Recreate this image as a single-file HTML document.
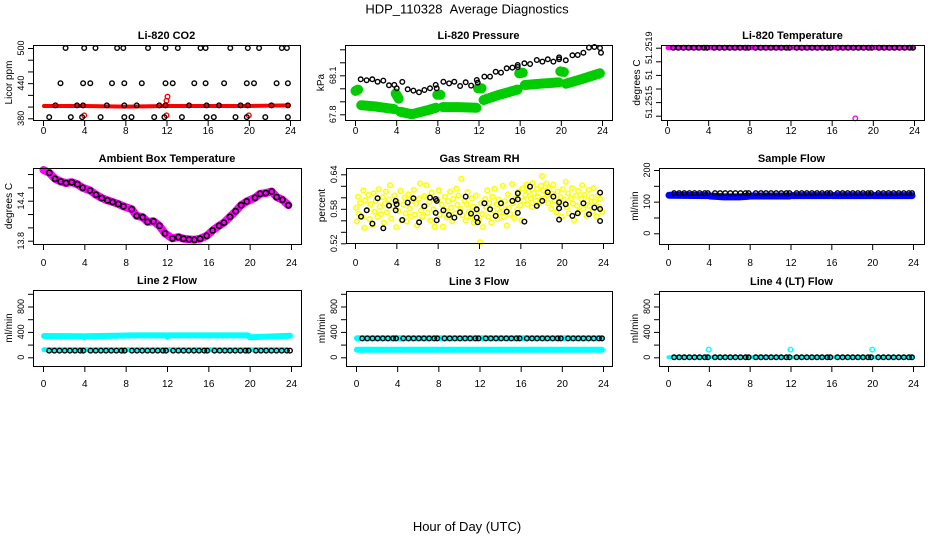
<!DOCTYPE html>
<html><head><meta charset="utf-8">
<style>
html,body{margin:0;padding:0;background:#fff;}
svg{display:block;font-family:"Liberation Sans",sans-serif;}
</style></head>
<body>
<svg id="chart" width="936" height="540" viewBox="0 0 936 540">
<text x="467" y="13.5" font-size="13" text-anchor="middle">HDP_110328&#160;&#160;Average Diagnostics</text>
<text x="467" y="531" font-size="13" text-anchor="middle">Hour of Day (UTC)</text>
</svg>
<script>
// ---------- data ----------
const xTicks = [0,4,8,12,16,20,24];
const halfHours = [0.6,1.1,1.6,2.1,2.6,3.1,3.6,3.9,4.6,5.1,5.6,6.1,6.6,7.1,7.6,7.9,8.6,9.1,9.6,10.1,10.6,11.1,11.6,11.9,12.6,13.1,13.6,14.1,14.6,15.1,15.6,15.9,16.6,17.1,17.6,18.1,18.6,19.1,19.6,19.9,20.6,21.1,21.6,22.1,22.6,23.1,23.6,23.9];

// CO2
const co2BlackH = [2.2,4.0,5.1,7.2,7.8,10.2,11.9,13.1,15.3,15.8,18.2,19.9,21.0,23.2,23.7, 1.7,3.9,4.6,6.7,7.9,9.6,11.9,12.6,14.7,15.8,17.6,19.8,20.5,22.7,23.8, 1.2,3.3,3.9,6.2,7.9,9.1,11.3,11.9,14.2,15.9,17.1,19.2,19.9,22.2,23.8, 0.6,2.7,3.8,5.6,7.9,8.6,10.8,11.8,13.5,15.9,16.6,18.7,19.8,21.6,23.8];
const co2BlackV = [500,500,500,500,500,500,500,500,500,500,500,500,500,500,500, 440,440,440,440,440,440,440,440,440,440,440,440,440,440,440, 402,402,402,402,402,402,402,402,402,402,402,402,402,402,402, 382,382,382,382,382,382,382,382,382,382,382,382,382,382,382];
const co2RedH = [0.1,4,8,12,16,20,23.9];
const co2RedV = [401,401,400,401,401,401,402];
const co2RedPtH = [12.1,12.0,4.0,12.0,20.0];
const co2RedPtV = [417,410,385,385,385];

// Pressure
const presBlackH = [0.55,1.13,1.68,2.20,2.75,3.30,3.82,4.05,4.60,5.12,5.67,6.22,6.74,7.29,7.84,7.94,8.59,9.14,9.65,10.21,10.76,11.28,11.83,11.92,12.57,13.12,13.67,14.19,14.74,15.29,15.81,15.81,16.46,17.01,17.66,18.21,18.73,19.28,19.83,19.83,20.48,21.12,21.64,22.19,22.74,23.26,23.81,23.9];
const presBlackV = [68.069,68.062,68.069,68.051,68.059,68.023,68.026,68.0,68.049,67.992,67.982,67.969,67.987,68.0,68.026,68.0,68.051,68.038,68.051,68.018,68.046,68.021,68.064,68.044,68.090,68.090,68.128,68.121,68.154,68.159,68.179,68.164,68.192,68.187,68.218,68.205,68.223,68.205,68.223,68.238,68.215,68.254,68.256,68.274,68.313,68.318,68.310,68.274];
const presGreenH = [0.05,0.3,null,0.6,2.0,3.8,null,3.95,4.25,null,4.4,5.5,7.0,7.85,null,8.0,8.3,null,8.5,10.0,11.8,null,11.95,12.3,null,12.5,14.0,15.8,null,15.95,16.3,null,16.5,18.0,19.8,null,19.95,20.3,null,20.5,22.0,23.8];
const presGreenV = [67.98,67.99,null,67.87,67.86,67.84,null,67.96,67.92,null,67.82,67.80,67.83,67.85,null,67.95,67.95,null,67.855,67.855,67.85,null,68.0,68.0,null,67.91,67.95,67.99,null,68.115,68.12,null,68.025,68.035,68.045,null,68.13,68.125,null,68.035,68.07,68.115];

// Li-820 temperature
const tempBlackV = halfHours.map(()=>51.2519);
const tempMagH = [0.1,23.9];
const tempMagV = [51.2519,51.2519];
const tempOutH = [18.3];
const tempOutV = [51.25138];

// Ambient
const ambH = [0.61,1.16,1.71,2.23,2.78,3.32,3.84,4.55,5.13,5.68,6.23,6.74,7.29,7.78,8.58,9.07,9.65,10.13,10.68,11.26,11.81,12.52,13.10,13.58,14.13,14.65,15.20,15.84,16.42,17.04,17.52,18.10,18.65,19.17,19.72,20.52,21.01,21.55,22.13,22.62,23.17,23.75];
const ambV = [14.818,14.728,14.688,14.664,14.678,14.648,14.594,14.554,14.49,14.44,14.406,14.38,14.35,14.316,14.272,14.172,14.152,14.082,14.092,14.024,13.91,13.834,13.854,13.83,13.82,13.814,13.83,13.874,13.954,14.024,14.072,14.158,14.242,14.332,14.39,14.444,14.504,14.514,14.538,14.454,14.414,14.332];
const ambMagH = [0.05,0.61,1.16,1.71,2.23,2.78,3.32,3.84,4.55,5.13,5.68,6.23,6.74,7.29,7.78,8.58,9.07,9.65,10.13,10.68,11.26,11.81,12.52,13.10,13.58,14.13,14.65,15.20,15.84,16.42,17.04,17.52,18.10,18.65,19.17,19.72,20.52,21.01,21.55,22.13,22.62,23.17,23.75];
const ambMagV = [14.86,14.818,14.728,14.688,14.664,14.678,14.648,14.594,14.554,14.49,14.44,14.406,14.38,14.35,14.316,14.272,14.172,14.152,14.082,14.092,14.024,13.91,13.834,13.854,13.83,13.82,13.814,13.83,13.874,13.954,14.024,14.072,14.158,14.242,14.332,14.39,14.444,14.504,14.514,14.538,14.454,14.414,14.332];

// Gas stream RH
const rhBlackH = [0.58,1.13,1.68,2.19,2.74,3.29,3.94,3.94,4.03,4.58,5.10,5.65,6.20,6.71,7.26,7.81,7.81,7.91,7.91,8.55,9.10,9.62,10.16,10.71,11.23,11.78,11.78,11.87,12.52,13.07,13.62,14.13,14.68,15.23,15.75,15.75,15.75,16.39,16.94,17.59,18.13,18.65,19.20,19.75,19.75,19.75,20.39,21.04,21.55,22.10,22.65,23.17,23.72,23.72,23.72];
const rhBlackV = [0.5664,0.5774,0.5542,0.5983,0.5461,0.5855,0.5937,0.5774,0.5879,0.5606,0.5908,0.5983,0.5565,0.5844,0.5995,0.5971,0.5728,0.5937,0.5600,0.5774,0.5693,0.5647,0.5739,0.6012,0.5716,0.5647,0.5792,0.5565,0.5896,0.5792,0.5676,0.5896,0.5751,0.5937,0.5966,0.6070,0.5728,0.5577,0.6186,0.5850,0.5937,0.6087,0.6012,0.5809,0.5913,0.5612,0.5879,0.5676,0.5722,0.5896,0.5705,0.5821,0.6082,0.5797,0.5588];
const rhYellowH = [0.1,0.2,0.3,0.4,0.5,0.7,0.8,0.9,1.0,1.2,1.3,1.4,1.5,1.7,1.8,1.9,2.0,2.2,2.3,2.4,2.5,2.7,2.8,2.9,3.0,3.1,3.3,3.4,3.5,3.7,3.8,4.0,4.1,4.2,4.4,4.5,4.7,4.8,4.9,5.0,5.2,5.3,5.4,5.5,5.7,5.8,5.9,6.0,6.2,6.3,6.4,6.5,6.7,6.8,6.9,7.0,7.2,7.3,7.4,7.6,7.7,8.0,8.1,8.2,8.4,8.5,8.7,8.8,8.9,9.0,9.2,9.3,9.4,9.5,9.7,9.8,9.9,10.0,10.2,10.3,10.4,10.6,10.7,10.8,10.9,11.0,11.2,11.3,11.4,11.5,11.7,11.8,12.0,12.1,12.2,12.3,12.4,12.6,12.7,12.8,12.9,13.0,13.2,13.3,13.4,13.5,13.7,13.8,13.9,14.0,14.2,14.3,14.4,14.5,14.7,14.8,14.9,15.0,15.2,15.3,15.4,15.5,15.7,15.8,16.0,16.1,16.2,16.3,16.5,16.6,16.7,16.8,17.0,17.1,17.2,17.3,17.5,17.6,17.7,17.8,18.0,18.1,18.2,18.3,18.5,18.6,18.7,18.8,19.0,19.1,19.2,19.3,19.5,19.6,19.7,19.9,20.0,20.1,20.2,20.4,20.5,20.6,20.7,20.9,21.0,21.1,21.2,21.4,21.5,21.6,21.7,21.9,22.0,22.1,22.2,22.4,22.5,22.6,22.7,22.9,23.0,23.1,23.2,23.4,23.5,23.6,23.7,23.9];
const rhYellowV = [0.582,0.558,0.601,0.571,0.590,0.566,0.612,0.547,0.595,0.578,0.604,0.562,0.588,0.552,0.607,0.575,0.593,0.566,0.614,0.583,0.571,0.600,0.556,0.589,0.610,0.574,0.596,0.621,0.563,0.585,0.603,0.548,0.592,0.576,0.611,0.560,0.587,0.599,0.572,0.558,0.605,0.581,0.567,0.594,0.613,0.570,0.589,0.551,0.598,0.624,0.577,0.566,0.602,0.585,0.621,0.573,0.592,0.560,0.608,0.579,0.549,0.596,0.612,0.570,0.587,0.549,0.601,0.576,0.565,0.593,0.610,0.582,0.558,0.597,0.572,0.615,0.587,0.603,0.580,0.632,0.569,0.594,0.560,0.588,0.609,0.575,0.566,0.598,0.584,0.556,0.603,0.577,0.560,0.522,0.590,0.571,0.548,0.597,0.583,0.612,0.566,0.590,0.556,0.601,0.577,0.615,0.588,0.562,0.596,0.574,0.583,0.620,0.566,0.593,0.551,0.605,0.582,0.571,0.623,0.590,0.564,0.598,0.579,0.610,0.586,0.560,0.615,0.595,0.604,0.622,0.588,0.610,0.598,0.583,0.625,0.607,0.593,0.615,0.601,0.589,0.620,0.637,0.612,0.598,0.624,0.604,0.590,0.616,0.580,0.606,0.622,0.594,0.574,0.610,0.588,0.600,0.566,0.614,0.596,0.627,0.583,0.607,0.572,0.598,0.616,0.589,0.560,0.603,0.585,0.611,0.575,0.597,0.621,0.580,0.604,0.568,0.594,0.613,0.585,0.600,0.575,0.616,0.592,0.567,0.603,0.583,0.597,0.575];

// Sample flow
const sampleBlackV = halfHours.map(()=>127);
const sampleBlueH = [0.1,3.9,null,4.1,5.5,7.0,7.9,null,8.1,11.9,null,12.1,15.9,null,16.1,19.9,null,20.1,23.9];
const sampleBlueV = [120,119,null,118,115,115,117,null,118,118,null,119,119,null,119,119,null,119,119];

// Line 2
const line2BlackV = halfHours.map(()=>105);
const line2CyanUpH = [0.1,3.9,4.0,4.1,8.5,11.9,12.0,12.1,19.8,19.9,20.0,23.9];
const line2CyanUpV = [335,332,315,330,345,345,325,345,345,340,315,340];
const line2CyanLoH = [0.1,23.6];
const line2CyanLoV = [120,120];

// Line 3
const line3BlackV = halfHours.map(()=>298);
const line3CyanUpH = [0.1,23.9];
const line3CyanUpV = [300,300];
const line3CyanLoH = [0.1,23.9];
const line3CyanLoV = [118,118];

// Line 4
const line4BlackV = halfHours.map(()=>0);
const line4CyanH = [0.05,0.3,23.9];
const line4CyanV = [0,0,0];
const line4OutH = [4.0,12.0,20.0];
const line4OutV = [122,122,122];

// ---------- rendering ----------
const NS = "http://www.w3.org/2000/svg";
const svg = document.getElementById("chart");
function mk(tag, attrs, parent){
  const e = document.createElementNS(NS, tag);
  for (const k in attrs) e.setAttribute(k, attrs[k]);
  (parent||svg).appendChild(e);
  return e;
}

function makePanel(c){
  const g = mk("g", {});
  
  
  const xs = h => c.x0 + (h/24)*(c.x24 - c.x0);
  const ys = v => c.py0 + (v - c.v0)/(c.v1 - c.v0)*(c.py1 - c.py0);
  c.series.forEach(s => {
    if (s.type === "band") {
      let d = "", pen = false;
      for (let i=0;i<s.h.length;i++){
        if (s.h[i]===null){ pen=false; continue; }
        d += (pen?"L":"M") + xs(s.h[i]).toFixed(1) + " " + ys(s.v[i]).toFixed(1) + " ";
        pen = true;
      }
      const p = mk("path", {d:d, fill:"none", stroke:s.color, "stroke-width":s.w, "stroke-linecap":"round", "stroke-linejoin":"round"}, g);
      
      
    } else {
      const sg = mk("g", {fill:"none", stroke:s.color, "stroke-width":s.sw||1.4}, g);
      
      
      for (let i=0;i<s.h.length;i++){
        const pt = mk("circle", {cx:xs(s.h[i]).toFixed(1), cy:ys(s.v[i]).toFixed(1), r:s.r||2.3}, sg);
        
        
      }
    }
  });
  const b = c.box;
  const rect = mk("rect", {x:b[0]+0.5, y:b[1]+0.5, width:b[2]-b[0], height:b[3]-b[1], fill:"none", stroke:"#000", "stroke-width":1}, g);
  
  
  const t = mk("text", {x:(b[0]+b[2])/2, y:b[1]-6, "font-size":11, "font-weight":"bold", "text-anchor":"middle"}, g);
  t.textContent = c.title;
  
  
  const xa = mk("g", {}, g);
  
  
  xTicks.forEach(h => {
    mk("line", {x1:xs(h)+0.5, x2:xs(h)+0.5, y1:b[3], y2:b[3]+6, stroke:"#000"}, xa);
    const l = mk("text", {x:xs(h)+0.5, y:c.xLabY, "font-size":10, "text-anchor":"middle"}, xa);
    l.textContent = String(h);
    
    
  });
  const ya = mk("g", {}, g);
  
  
  c.yTicks.forEach(v => {
    mk("line", {x1:b[0]-5, x2:b[0], y1:ys(v)+0.5, y2:ys(v)+0.5, stroke:"#000"}, ya);
  });
  c.yLabVals.forEach((v,i) => {
    const yy = ys(v);
    const l = mk("text", {x:0, y:0, "font-size":9, "text-anchor":"middle", transform:`translate(${b[0]-9},${yy}) rotate(-90)`}, ya);
    l.textContent = c.yLabText[i];
    
    
  });
  const yl = mk("text", {x:0, y:0, "font-size":10, "text-anchor":"middle", transform:`translate(${b[0]-21},${(b[1]+b[3])/2}) rotate(-90)`}, g);
  yl.textContent = c.ylab;
  
  
}

const BK = "#000", RED="#ff0000", GRN="#00cc00", MAG="#ff00ff", YEL="#ffff00", BLU="#0000ff", CYN="#00ffff";

makePanel({name:"co2", title:"Li-820 CO2", ylab:"Licor ppm", box:[33,45,300,120], x0:43, x24:290, xLabY:134,
  v0:380, py0:118.3, v1:500, py1:48, yTicks:[380,400,420,440,460,480,500], yLabVals:[380,440,500], yLabText:["380","440","500"],
  series:[
    {type:"band", name:"co2-licor-band", h:co2RedH, v:co2RedV, color:RED, w:4},
    {type:"pts", name:"co2-red-points", h:co2RedPtH, v:co2RedPtV, color:RED},
    {type:"pts", name:"co2-average-points", h:co2BlackH, v:co2BlackV, color:BK}
  ]});
makePanel({name:"pressure", title:"Li-820 Pressure", ylab:"kPa", box:[345,45,612,120], x0:355, x24:602, xLabY:134,
  v0:67.8, py0:114.3, v1:68.1, py1:75.3, yTicks:[67.8,67.9,68.0,68.1,68.2,68.3], yLabVals:[67.8,68.1], yLabText:["67.8","68.1"],
  series:[
    {type:"band", name:"pressure-green-band", h:presGreenH, v:presGreenV, color:GRN, w:10},
    {type:"pts", name:"pressure-average-points", h:presBlackH, v:presBlackV, color:BK}
  ]});
makePanel({name:"li820-temp", title:"Li-820 Temperature", ylab:"degrees C", box:[661,45,924,120], x0:667, x24:914, xLabY:134,
  v0:51.2514, py0:115.7, v1:51.2519, py1:47.7, yTicks:[51.2514,51.2515,51.2516,51.2517,51.2518,51.2519], yLabVals:[51.2515,51.2517,51.2519], yLabText:["51.2515","51","51.2519"],
  series:[
    {type:"band", name:"li820-temp-magenta-band", h:tempMagH, v:tempMagV, color:MAG, w:5},
    {type:"pts", name:"li820-temp-outlier", h:tempOutH, v:tempOutV, color:MAG},
    {type:"pts", name:"li820-temp-average-points", h:halfHours, v:tempBlackV, color:BK}
  ]});
makePanel({name:"ambient", title:"Ambient Box Temperature", ylab:"degrees C", box:[33,168,301,244], x0:43, x24:291, xLabY:266,
  v0:13.8, py0:240.7, v1:14.4, py1:200.7, yTicks:[13.8,14.0,14.2,14.4,14.6,14.8], yLabVals:[13.8,14.4], yLabText:["13.8","14.4"],
  series:[
    {type:"band", name:"ambient-magenta-band", h:ambMagH, v:ambMagV, color:MAG, w:8},
    {type:"pts", name:"ambient-average-points", h:ambH, v:ambV, color:BK, r:2.6, sw:1.6}
  ]});
makePanel({name:"rh", title:"Gas Stream RH", ylab:"percent", box:[346,168,613,243], x0:355, x24:603, xLabY:266,
  v0:0.52, py0:243.3, v1:0.64, py1:174.3, yTicks:[0.52,0.54,0.56,0.58,0.60,0.62,0.64], yLabVals:[0.52,0.58,0.64], yLabText:["0.52","0.58","0.64"],
  series:[
    {type:"pts", name:"rh-yellow-points", h:rhYellowH, v:rhYellowV, color:YEL, sw:1.6},
    {type:"pts", name:"rh-average-points", h:rhBlackH, v:rhBlackV, color:BK}
  ]});
makePanel({name:"sample-flow", title:"Sample Flow", ylab:"ml/min", box:[659,168,924,244], x0:668, x24:913, xLabY:266,
  v0:0, py0:233.3, v1:200, py1:170, yTicks:[0,50,100,150,200], yLabVals:[0,100,200], yLabText:["0","100","200"],
  series:[
    {type:"band", name:"sample-flow-blue-band", h:sampleBlueH, v:sampleBlueV, color:BLU, w:7},
    {type:"pts", name:"sample-flow-average-points", h:halfHours, v:sampleBlackV, color:BK}
  ]});
makePanel({name:"line2", title:"Line 2 Flow", ylab:"ml/min", box:[33,290,301,366], x0:43, x24:291, xLabY:387,
  v0:0, py0:357.3, v1:1000, py1:293.8, yTicks:[0,200,400,600,800,1000], yLabVals:[0,400,800], yLabText:["0","400","800"],
  series:[
    {type:"band", name:"line2-cyan-upper-band", h:line2CyanUpH, v:line2CyanUpV, color:CYN, w:6},
    {type:"band", name:"line2-cyan-lower-band", h:line2CyanLoH, v:line2CyanLoV, color:CYN, w:5},
    {type:"pts", name:"line2-average-points", h:halfHours, v:line2BlackV, color:BK}
  ]});
makePanel({name:"line3", title:"Line 3 Flow", ylab:"ml/min", box:[346,291,612,366], x0:356, x24:603, xLabY:387,
  v0:0, py0:357.3, v1:1000, py1:293.8, yTicks:[0,200,400,600,800,1000], yLabVals:[0,400,800], yLabText:["0","400","800"],
  series:[
    {type:"band", name:"line3-cyan-upper-band", h:line3CyanUpH, v:line3CyanUpV, color:CYN, w:6},
    {type:"band", name:"line3-cyan-lower-band", h:line3CyanLoH, v:line3CyanLoV, color:CYN, w:6},
    {type:"pts", name:"line3-average-points", h:halfHours, v:line3BlackV, color:BK}
  ]});
makePanel({name:"line4", title:"Line 4 (LT) Flow", ylab:"ml/min", box:[659,291,924,366], x0:668, x24:913, xLabY:387,
  v0:0, py0:357.3, v1:1000, py1:293.8, yTicks:[0,200,400,600,800,1000], yLabVals:[0,400,800], yLabText:["0","400","800"],
  series:[
    {type:"band", name:"line4-cyan-band", h:line4CyanH, v:line4CyanV, color:CYN, w:4},
    {type:"pts", name:"line4-cyan-outliers", h:line4OutH, v:line4OutV, color:CYN},
    {type:"pts", name:"line4-average-points", h:halfHours, v:line4BlackV, color:BK}
  ]});
</script>
</body></html>
